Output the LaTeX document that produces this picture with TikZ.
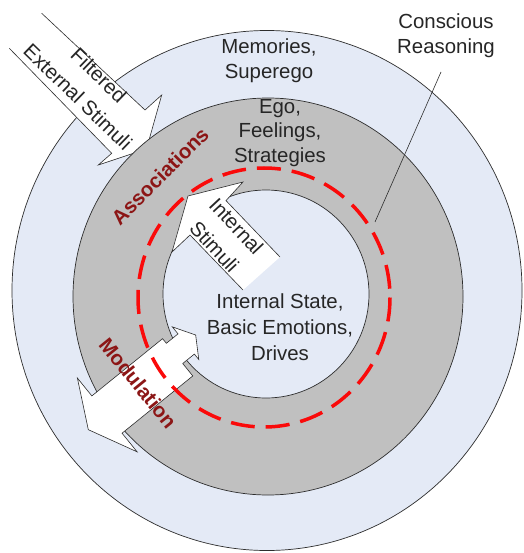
\documentclass[tikz,border=0pt]{standalone}
\usepackage{fontspec}
\setmainfont{Liberation Sans}
\definecolor{skyfill}{RGB}{228,234,246}
\definecolor{ringgray}{RGB}{192,192,192}
\definecolor{edgegray}{RGB}{45,45,45}
\definecolor{flowred}{RGB}{140,22,22}
\definecolor{dashred}{RGB}{250,10,10}
\begin{document}
\begin{tikzpicture}[x=1pt,y=-1pt,
  ring/.style={draw=edgegray, line width=0.7pt},
  layertext/.style={font=\fontsize{20.4}{24}\selectfont, text=black!85, inner sep=0pt, anchor=base},
  flowtext/.style={font=\fontsize{20.5}{22}\bfseries\selectfont, text=flowred, inner sep=0pt},
  arrowtext/.style={font=\fontsize{20.4}{30}\selectfont, text=black!85, inner sep=0pt, align=center},
  arrowedge/.style={draw=edgegray, line width=0.6pt, line join=miter},
]
\useasboundingbox (0,0) rectangle (523,553);
\fill[white] (0,0) rectangle (523,553);

% outer layer
\draw[ring, fill=skyfill] (267,290.5) ellipse [x radius=255, y radius=260];

% incoming external stimuli (tip tucked under the grey ring)
\fill[white] (41.7,13.3) -- (145,110) -- (161.7,95) -- (146.5,149)
  -- (98.3,165) -- (111.7,153.3) -- (9.3,48.3) -- cycle;
\draw[arrowedge] (41.7,13.3) -- (145,110) -- (161.7,95) -- (146.5,149)
  -- (98.3,165) -- (111.7,153.3) -- (9.3,48.3);

% middle and inner layers
\draw[ring, fill=ringgray] (268,296.5) ellipse [x radius=195, y radius=198.5];
\draw[ring, fill=skyfill] (266,294) ellipse [x radius=103, y radius=104];

% internal stimuli arrow
\fill[white] (280,257) -- (226,200.6) -- (243,182) -- (188,196)
  -- (172,252) -- (190,235) -- (243,290) -- cycle;
\draw[arrowedge] (280,257) -- (226,200.6) -- (243,182) -- (188,196)
  -- (172,252) -- (190,235) -- (243,290);

% two-way modulation arrow
\begin{scope}[shift={(185.6,349.6)}, rotate=39]
  \draw[arrowedge, fill=white] (-126,1) -- (-102,-46) -- (-102,-23) -- (-11,-23)
    -- (-11,-17) -- (4,-17) -- (4,-26) -- (17,-5) -- (4,16) -- (4,9)
    -- (-11,9) -- (-11,25) -- (-102,25) -- (-102,49) -- cycle;
\end{scope}

% conscious reasoning boundary
\draw[dashred, line width=3.5pt, dash pattern=on 24pt off 11pt]
  (264,297.5) ellipse [x radius=126, y radius=129.5];

% leader line
\coordinate (crA) at (441,72);
\coordinate (crB) at (375,222);
\draw[edgegray, line width=0.6pt] (crA) -- (crB);

% layer labels
\node[layertext] (cr1) at (446,28.5) {Conscious};
\node[layertext] (cr2) at (446,53.5) {Reasoning};
\node[layertext] (mem1) at (269,54) {Memories,};
\node[layertext] (mem2) at (269,79) {Superego};
\node[layertext] (ego1) at (280,113.5) {Ego,};
\node[layertext] (ego2) at (280,138) {Feelings,};
\node[layertext] (ego3) at (280,162.5) {Strategies};
\node[layertext] (core1) at (280,308) {Internal State,};
\node[layertext] (core2) at (280,334) {Basic Emotions,};
\node[layertext] (core3) at (280,360) {Drives};

% arrow labels
\node[arrowtext, rotate=-44] (ext) at (88.5,86) {Filtered\\External Stimuli};
\node[arrowtext, rotate=-47] (int) at (225.5,236.5) {Internal\\Stimuli};

% flow labels
\node[flowtext, rotate=45] (assoc) at (160,176) {Associations};
\node[flowtext, rotate=-51] (modul) at (138,383) {Modulation};
\end{tikzpicture}
\end{document}
